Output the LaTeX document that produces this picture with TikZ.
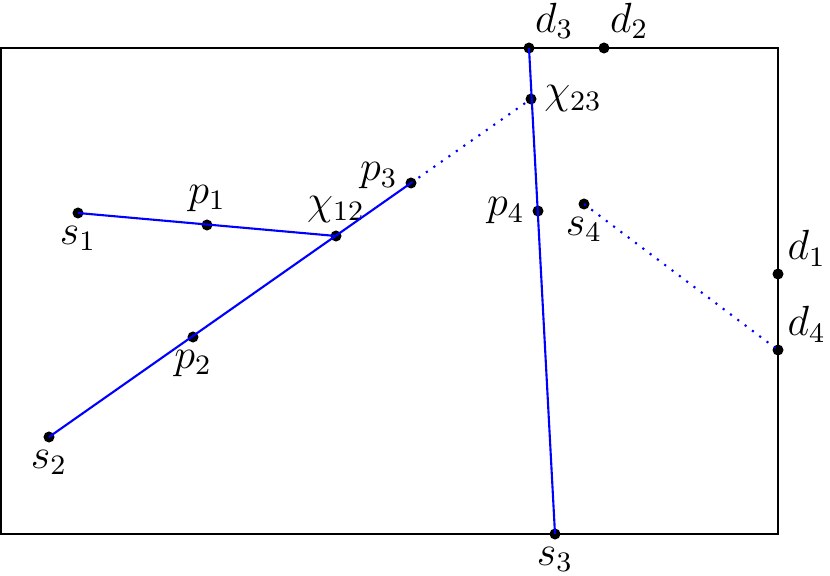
\documentclass[tikz,border=0pt]{standalone}
\usepackage{amsmath}
\usetikzlibrary{positioning}

\tikzset{
  pt/.style={circle, fill=black, inner sep=0pt, minimum size=0.11cm},
  ray/.style={blue, line width=0.6pt},
  ghost/.style={blue, dotted, line width=0.6pt}
}

\begin{document}
\begin{tikzpicture}[x=0.01cm, y=-0.01cm, label distance=-1.5pt,
    every label/.style={font=\fontsize{11.5}{14}\selectfont}]
  \useasboundingbox (0,0) rectangle (830,576);
  % box
  \draw[line width=0.6pt] (1,48) rectangle (778,534);

  % points
  \node[pt, label=below:$s_{1}$] (s1) at (78,213) {};
  \node[pt, label=above:$p_{1}$] (p1) at (207,225) {};
  \node[pt, label=above:$\chi_{12}$] (c12) at (336,236) {};
  \node[pt, label={[yshift=2pt]left:$p_{3}$}] (p3) at (411,183) {};
  \node[pt, label=below:$p_{2}$] (p2) at (193,337) {};
  \node[pt, label=below:$s_{2}$] (s2) at (49,437) {};
  \node[pt, label={[xshift=-2pt,yshift=-1pt]above right:$d_{3}$}] (d3) at (529,48) {};
  \node[pt, label={[xshift=-2pt,yshift=-1pt]above right:$d_{2}$}] (d2) at (604,48) {};
  \node[pt, label=right:$\chi_{23}$] (c23) at (531,99) {};
  \node[pt, label=left:$p_{4}$] (p4) at (538,211) {};
  \node[pt, label=below:$s_{4}$] (s4) at (584,204) {};
  \node[pt, label={[xshift=-1pt,yshift=-1.5pt]above right:$d_{1}$}] (d1) at (778,274) {};
  \node[pt, label={[xshift=-1pt,yshift=-1.5pt]above right:$d_{4}$}] (d4) at (778,350) {};
  \node[pt, label=below:$s_{3}$] (s3) at (555,534) {};

  % rays
  \draw[ray] (s1.center) -- (c12.center);
  \draw[ray] (s2.center) -- (p3.center);
  \draw[ray] (d3.center) -- (s3.center);
  \draw[ghost] (p3.center) -- (c23.center);
  \draw[ghost] (s4.center) -- (d4.center);
\end{tikzpicture}
\end{document}
